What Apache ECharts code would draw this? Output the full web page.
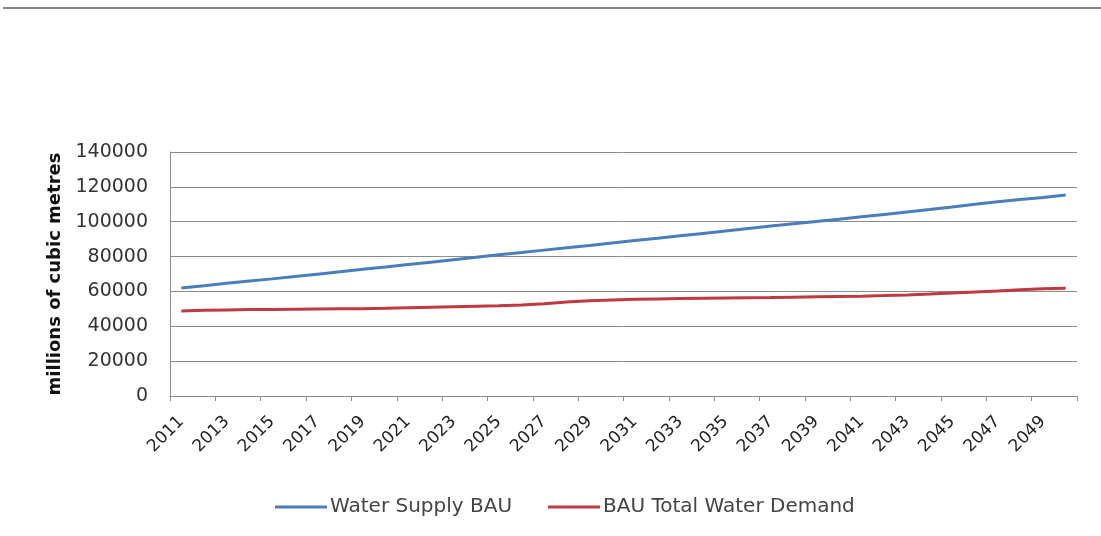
<!DOCTYPE html>
<html>
<head>
<meta charset="utf-8">
<script src="https://cdn.jsdelivr.net/npm/echarts@6/dist/echarts.min.js"></script>
<style>
html, body { margin: 0; padding: 0; background: #fff; }
#chart { width: 1101px; height: 536px; }
</style>
</head>
<body>
<div id="chart"></div>
<script>
// years on the category axis
var years = ['2011','2012','2013','2014','2015','2016','2017','2018','2019','2020',
  '2021','2022','2023','2024','2025','2026','2027','2028','2029','2030',
  '2031','2032','2033','2034','2035','2036','2037','2038','2039','2040',
  '2041','2042','2043','2044','2045','2046','2047','2048','2049','2050'];

var waterSupply = [62000, 63300, 64700, 66000, 67200, 68500, 69900, 71300, 72700, 74000,
  75400, 76800, 78200, 79600, 81000, 82300, 83700, 85100, 86400, 87800,
  89200, 90500, 91900, 93300, 94700, 96100, 97500, 98800, 100100, 101400,
  102800, 104200, 105600, 107000, 108500, 110000, 111400, 112700, 113900, 115300];

var waterDemand = [48800, 49200, 49400, 49600, 49700, 49800, 49900, 50000, 50100, 50300,
  50600, 50900, 51200, 51500, 51800, 52200, 53000, 53900, 54600, 55100,
  55500, 55700, 55900, 56100, 56300, 56400, 56500, 56700, 56900, 57100,
  57300, 57600, 58000, 58500, 59100, 59700, 60300, 61000, 61600, 61800];

var seriesNames = ['Water Supply BAU', 'BAU Total Water Demand'];

var myChart = echarts.init(document.getElementById('chart'));

var option = {
  animation: false,
  backgroundColor: '#fff',
  textStyle: { fontFamily: 'DejaVu Sans' },
  graphic: [
    { type: 'line', shape: { x1: 3, y1: 8, x2: 1101, y2: 8 }, style: { stroke: '#858585', lineWidth: 2 } }
  ],
  grid: { left: 170, right: 24, top: 152, bottom: 140 },
  legend: {
    left: 270,
    top: 492,
    icon: 'rect',
    itemWidth: 52,
    itemHeight: 3,
    itemGap: 36,
    textStyle: { fontSize: 20, color: '#444', padding: [0, 0, 0, -2] },
    data: seriesNames
  },
  xAxis: {
    type: 'category',
    data: years,
    boundaryGap: true,
    axisLine: { lineStyle: { color: '#8c8c8c', width: 1 } },
    axisTick: { show: true, interval: 1, length: 5, lineStyle: { color: '#8c8c8c' } },
    axisLabel: { interval: 1, rotate: 45, fontSize: 17, color: '#222', margin: 23 }
  },
  yAxis: {
    type: 'value',
    min: 0,
    max: 140000,
    interval: 20000,
    name: 'millions of cubic metres',
    nameLocation: 'middle',
    nameGap: 106,
    nameTextStyle: { fontSize: 18, fontWeight: 'bold', color: '#111' },
    axisLine: { show: true, lineStyle: { color: '#8c8c8c' } },
    axisTick: { show: false },
    axisLabel: { fontSize: 19, color: '#333', margin: 22, formatter: function (v) { return String(v); } },
    splitLine: { lineStyle: { color: '#8c8c8c', width: 1 } }
  },
  series: [
    {
      name: seriesNames[0],
      type: 'line',
      data: waterSupply,
      showSymbol: false,
      symbol: 'none',
      lineStyle: { color: '#4a7ebb', width: 3 },
      itemStyle: { color: '#4a7ebb' }
    },
    {
      name: seriesNames[1],
      type: 'line',
      data: waterDemand,
      showSymbol: false,
      symbol: 'none',
      lineStyle: { color: '#c0393f', width: 3 },
      itemStyle: { color: '#c0393f' }
    }
  ]
};

myChart.setOption(option);
</script>
</body>
</html>
